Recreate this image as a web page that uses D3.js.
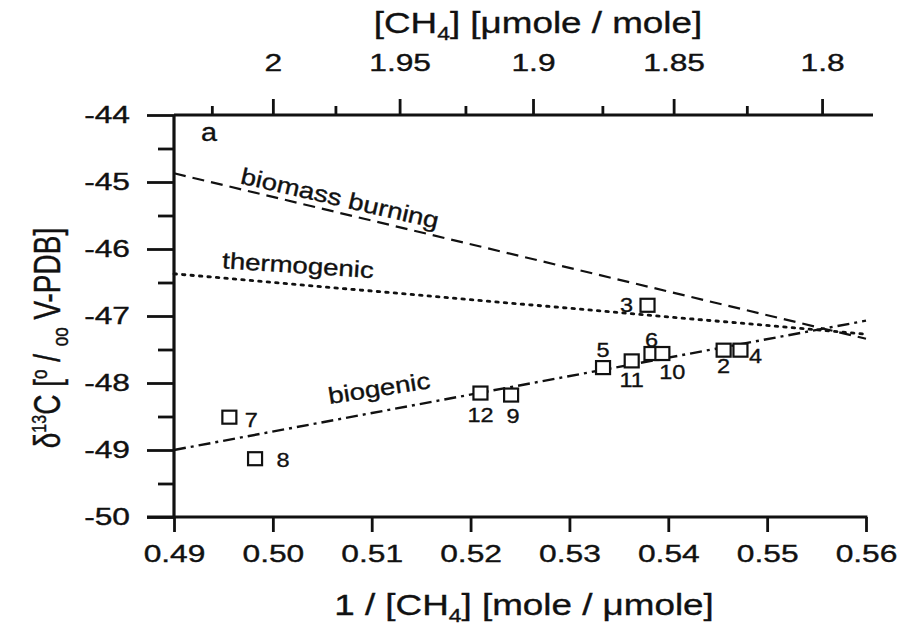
<!DOCTYPE html>
<html>
<head>
<meta charset="utf-8">
<script src="https://cdn.jsdelivr.net/npm/d3@7"></script>
<style>
  html, body { margin: 0; padding: 0; background: #fff; }
  svg { display: block; }
  text { font-family: "Liberation Sans", Arial, Helvetica, sans-serif; fill: #111; stroke: #111; stroke-width: 0.35px; }
</style>
</head>
<body>
<svg id="chart" width="912" height="628"></svg>
<script>
// ---------- data ----------
const sampleLabels = ["2", "3", "4", "5", "6", "7", "8", "9", "10", "11", "12"];
const invCH4 = [0.5456, 0.5379, 0.5473, 0.5334, 0.5383, 0.4956, 0.4982, 0.5241, 0.5394, 0.5363, 0.5210];
const d13C = [-47.51, -46.84, -47.51, -47.77, -47.56, -48.51, -49.13, -48.18, -47.56, -47.67, -48.15];

const sourceNames = ["biomass burning", "thermogenic", "biogenic"];
const sourceX = [0.49, 0.56];
const biomassY = [-44.87, -47.34];
const thermogenicY = [-46.37, -47.27];
const biogenicY = [-49.0, -47.07];

const bottomTicks = [0.49, 0.50, 0.51, 0.52, 0.53, 0.54, 0.55, 0.56];
const leftTicks = [-50, -49, -48, -47, -46, -45, -44];
const leftMinorTicks = [-49.5, -48.5, -47.5, -46.5, -45.5, -44.5];
const topTicks = [2, 1.95, 1.9, 1.85, 1.8];
const topMinorTicks = [2.025, 1.975, 1.925, 1.875, 1.825];

// ---------- layout / style (not data) ----------
const labelDx = [0, -21, 15, 0, 0, 22, 28, 2, 10, 0, 0];
const labelDy = [16, 0, 6, -18, -14, 3, 1, 21, 18, 19, 22];
const sourceStyles = [
  { dash: "12,7", width: 2.2 },
  { dash: "2.5,6", width: 2.8 },
  { dash: "12,5,3,5", width: 2.4 }
];
const lineLabelPos = [
  { cx: 340, cy: 198, rot: 13, size: 23 },
  { cx: 298, cy: 265, rot: 3.7, size: 23 },
  { cx: 379, cy: 388, rot: -9, size: 23 }
];
const SX_TICK = 1.38, SX_TITLE = 1.27, SX_LINE = 1.2, SX_PT = 1.12;

function stretch(sel, sx) {
  sel.each(function () {
    const t = d3.select(this);
    const tx = +t.attr("x") || 0, ty = +t.attr("y") || 0;
    t.attr("x", 0).attr("y", 0).attr("transform", `translate(${tx},${ty}) scale(${sx},1)`);
  });
}

const svg = d3.select("#chart");
svg.append("rect").attr("width", 912).attr("height", 628).attr("fill", "#fff");

const x = d3.scaleLinear().domain([0.49, 0.56]).range([174, 866]);
const y = d3.scaleLinear().domain([-50, -44]).range([517, 115]);
const axisColor = "#111";

// source mixing lines
const sourceYs = [biomassY, thermogenicY, biogenicY];
const lineGen = d3.line().x(d => x(d[0])).y(d => y(d[1]));
sourceYs.forEach((ys, i) => {
  svg.append("path")
    .datum(sourceX.map((xv, j) => [xv, ys[j]]))
    .attr("d", lineGen)
    .attr("fill", "none")
    .attr("stroke", "#111")
    .attr("stroke-width", sourceStyles[i].width)
    .attr("stroke-dasharray", sourceStyles[i].dash)
    .attr("stroke-linecap", i === 1 ? "round" : "butt");
});

// line labels
sourceNames.forEach((name, i) => {
  const p = lineLabelPos[i];
  svg.append("text")
    .attr("transform", `translate(${p.cx},${p.cy}) rotate(${p.rot}) scale(${SX_LINE},1)`)
    .attr("text-anchor", "middle")
    .attr("dominant-baseline", "central")
    .attr("font-size", p.size)
    .text(name);
});

// bottom axis
const bottomAxis = d3.axisBottom(x).tickValues(bottomTicks).tickSize(15).tickPadding(14)
  .tickFormat(d3.format(".2f"));
const gB = svg.append("g").attr("transform", `translate(0,${y(-50)})`).call(bottomAxis);
gB.select(".domain").remove();
gB.selectAll(".tick line").attr("stroke", axisColor).attr("stroke-width", 2.8);
gB.selectAll(".tick text").attr("font-size", 23).attr("fill", "#111").call(stretch, SX_TICK);
svg.append("line").attr("x1", 147).attr("x2", x(0.56) + 1.4)
  .attr("y1", y(-50)).attr("y2", y(-50)).attr("stroke", axisColor).attr("stroke-width", 3.2);

// left axis
const leftAxis = d3.axisLeft(y).tickValues(leftTicks).tickSize(27).tickPadding(17)
  .tickFormat(d => d3.format("d")(d).replace("\u2212", "-"));
const gL = svg.append("g").attr("transform", `translate(${x(0.49)},0)`).call(leftAxis);
gL.select(".domain").remove();
gL.selectAll(".tick line").attr("stroke", axisColor).attr("stroke-width", 2.8);
gL.selectAll(".tick text").attr("font-size", 23).attr("fill", "#111").call(stretch, SX_TICK);
const leftMinor = d3.axisLeft(y).tickValues(leftMinorTicks).tickSize(16).tickFormat("");
const gLm = svg.append("g").attr("transform", `translate(${x(0.49)},0)`).call(leftMinor);
gLm.select(".domain").remove();
gLm.selectAll(".tick line").attr("stroke", axisColor).attr("stroke-width", 2.8);
svg.append("line").attr("x1", x(0.49)).attr("x2", x(0.49))
  .attr("y1", y(-44)).attr("y2", y(-50)).attr("stroke", axisColor).attr("stroke-width", 3.2);

// top axis ([CH4] = 1 / x)
const fmtTop = d => parseFloat((1 / d).toPrecision(6)).toString();
const topAxis = d3.axisTop(x).tickValues(topTicks.map(c => 1 / c)).tickSize(16).tickPadding(28)
  .tickFormat(fmtTop);
const gT = svg.append("g").attr("transform", `translate(0,${y(-44)})`).call(topAxis);
gT.select(".domain").remove();
gT.selectAll(".tick line").attr("stroke", axisColor).attr("stroke-width", 2.8);
gT.selectAll(".tick text").attr("font-size", 23).attr("fill", "#111").call(stretch, SX_TICK);
const topMinor = d3.axisTop(x).tickValues(topMinorTicks.map(c => 1 / c)).tickSize(9).tickFormat("");
const gTm = svg.append("g").attr("transform", `translate(0,${y(-44)})`).call(topMinor);
gTm.select(".domain").remove();
gTm.selectAll(".tick line").attr("stroke", axisColor).attr("stroke-width", 2.8);
svg.append("line").attr("x1", x(0.49)).attr("x2", x(0.56) + 7)
  .attr("y1", y(-44)).attr("y2", y(-44)).attr("stroke", axisColor).attr("stroke-width", 3.2);

// data points
const pts = sampleLabels.map((lab, i) => ({ lab, xv: invCH4[i], yv: d13C[i], dx: labelDx[i], dy: labelDy[i] }));
svg.append("g").selectAll("rect").data(pts).join("rect")
  .attr("x", d => x(d.xv) - 7).attr("y", d => y(d.yv) - 6.5)
  .attr("width", 14).attr("height", 13)
  .attr("fill", "#fff").attr("stroke", "#111").attr("stroke-width", 2.2);
svg.append("g").selectAll("text").data(pts).join("text")
  .attr("transform", d => `translate(${x(d.xv) + d.dx},${y(d.yv) + d.dy}) scale(${SX_PT},1)`)
  .attr("text-anchor", "middle").attr("dominant-baseline", "central")
  .attr("font-size", 21)
  .text(d => d.lab);

// panel letter
svg.append("text").attr("transform", "translate(209,141) scale(1.15,1)").attr("text-anchor", "middle")
  .attr("font-family", "'Liberation Serif', 'Times New Roman', serif")
  .attr("font-size", 25).text("a");

// top title
const tt = svg.append("text").attr("transform", `translate(538,33) scale(${SX_TITLE},1)`)
  .attr("text-anchor", "middle").attr("font-size", 29);
tt.append("tspan").text("[CH");
tt.append("tspan").attr("font-size", 18).attr("dy", 7).text("4");
tt.append("tspan").attr("dy", -7).text("] [\u03bcmole / mole]");

// bottom title
const bt = svg.append("text").attr("transform", `translate(524,615) scale(${SX_TITLE},1)`)
  .attr("text-anchor", "middle").attr("font-size", 29);
bt.append("tspan").text("1 / [CH");
bt.append("tspan").attr("font-size", 18).attr("dy", 7).text("4");
bt.append("tspan").attr("dy", -7).text("] [mole / \u03bcmole]");

// y title
const yt = svg.append("text").attr("transform", "translate(60,338) scale(1.3,1) rotate(-90)")
  .attr("text-anchor", "middle").attr("font-size", 28);
yt.append("tspan").text("\u03b4");
yt.append("tspan").attr("font-size", 16).attr("dy", -11).text("13");
yt.append("tspan").attr("dy", 11).text("C [");
yt.append("tspan").attr("font-size", 17).attr("dy", -10).text("o");
yt.append("tspan").attr("dy", 10).text(" / ");
yt.append("tspan").attr("font-size", 17).attr("dy", 6).text("oo");
yt.append("tspan").attr("dy", -6).text(" V-PDB]");
</script>
</body>
</html>
